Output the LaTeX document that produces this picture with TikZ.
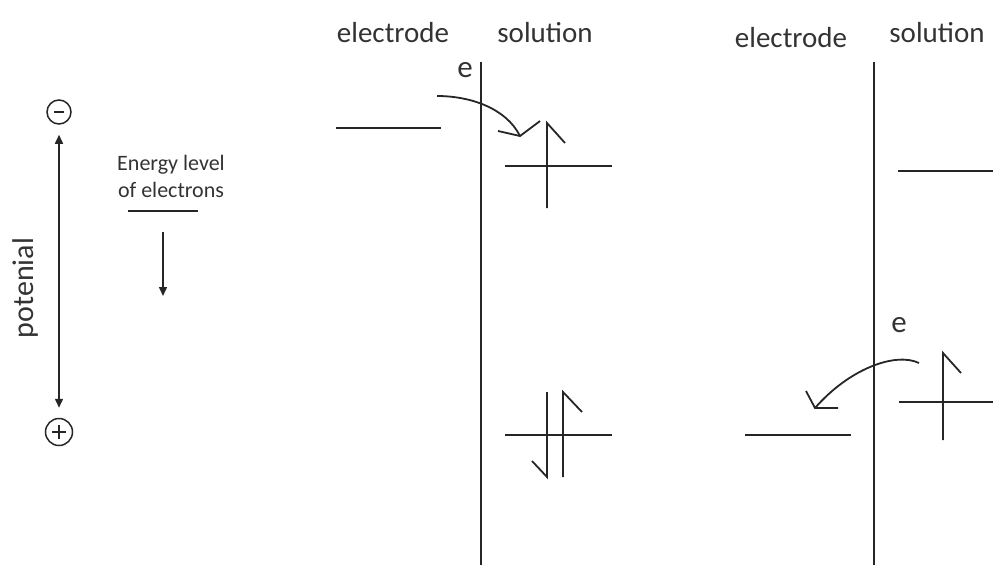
\documentclass[tikz,border=0pt]{standalone}
\usepackage{fontspec}
\setmainfont{Carlito}
\usetikzlibrary{arrows.meta}
\begin{document}
\begin{tikzpicture}[x=1pt,y=-1pt,
  ln/.style={line width=1.8pt,draw=black!85},
  thin/.style={line width=1.5pt,draw=black!85},
  head/.style={font=\fontsize{29}{34}\selectfont,text=black!80,inner sep=0pt},
  small/.style={font=\fontsize{22}{27}\selectfont,text=black!80,inner sep=0pt,align=center},
  sign/.style={circle,draw=black!85,line width=1.5pt,minimum size=24pt,inner sep=0pt},
  minusmark/.style={path picture={\draw[line width=1.6pt,black!85] ([xshift=-5pt]path picture bounding box.center) -- ([xshift=5pt]path picture bounding box.center);}},
  plusmark/.style={path picture={\draw[line width=1.6pt,black!85] ([xshift=-7pt]path picture bounding box.center) -- ([xshift=7pt]path picture bounding box.center) ([yshift=-7pt]path picture bounding box.center) -- ([yshift=7pt]path picture bounding box.center);}},
  tri/.style={-{Triangle[length=9pt,width=8pt]}},
  tritwo/.style={{Triangle[length=9pt,width=8pt]}-{Triangle[length=9pt,width=8pt]}}]
\useasboundingbox (0,0) rectangle (993,565);
% left legend
\node[sign,minusmark] (minus) at (59,112) {};
\node[sign,plusmark,minimum size=27pt] (plus) at (59,432) {};
\draw[thin,tritwo,shorten <=10pt,shorten >=10pt] (minus) -- (plus);
\node[head,rotate=90,font=\fontsize{30}{34}\selectfont] (pot) at (26,288) {potenial};
\node[small] (energy) at (171,176) {Energy level\\of electrons};
\draw[thin] (128,211) -- (198,211);
\coordinate (dA) at (163,232);
\coordinate (dB) at (163,296);
\draw[thin,tri] (dA) -- (dB);
% middle panel
\node[head] (el1) at (393,33) {electrode};
\node[head] (so1) at (545,33) {solution};
\coordinate (w1t) at (481,62);
\coordinate (w1b) at (481,565);
\draw[ln] (w1t) -- (w1b);
\node[head,font=\fontsize{31}{34}\selectfont] (e1) at (465,70) {e};
\draw[ln] (336,128) -- (441,128);
\coordinate (c1s) at (437,96);
\coordinate (c1e) at (520,136);
\draw[ln] (c1s) .. controls (470,96) and (506,108) .. (c1e);
\draw[ln] (498,131) -- (c1e) -- (540,121);
% spin up (top)
\draw[ln] (505,166) -- (612,166);
\draw[ln] (547,208) -- (547,123) -- (565,143);
% paired spins (bottom)
\draw[ln] (505,435) -- (612,435);
\draw[ln] (563,477) -- (563,392) -- (582,412);
\draw[ln] (547,392) -- (547,477) -- (532,461);
% right panel
\node[head] (el2) at (791,38) {electrode};
\node[head] (so2) at (937,33) {solution};
\coordinate (w2t) at (874,62);
\coordinate (w2b) at (874,565);
\draw[ln] (w2t) -- (w2b);
\draw[ln] (898,171) -- (993,171);
\node[head,font=\fontsize{31}{34}\selectfont] (e2) at (899,325) {e};
\coordinate (c2s) at (919,363);
\coordinate (c2e) at (815,408);
\draw[ln] (c2s) .. controls (896,352) and (850,368) .. (c2e);
\draw[ln] (806,391) -- (c2e) -- (838,408);
\draw[ln] (899,402) -- (993,402);
\draw[ln] (943,440) -- (943,353) -- (961,373);
\draw[ln] (745,435) -- (851,435);
\end{tikzpicture}
\end{document}
